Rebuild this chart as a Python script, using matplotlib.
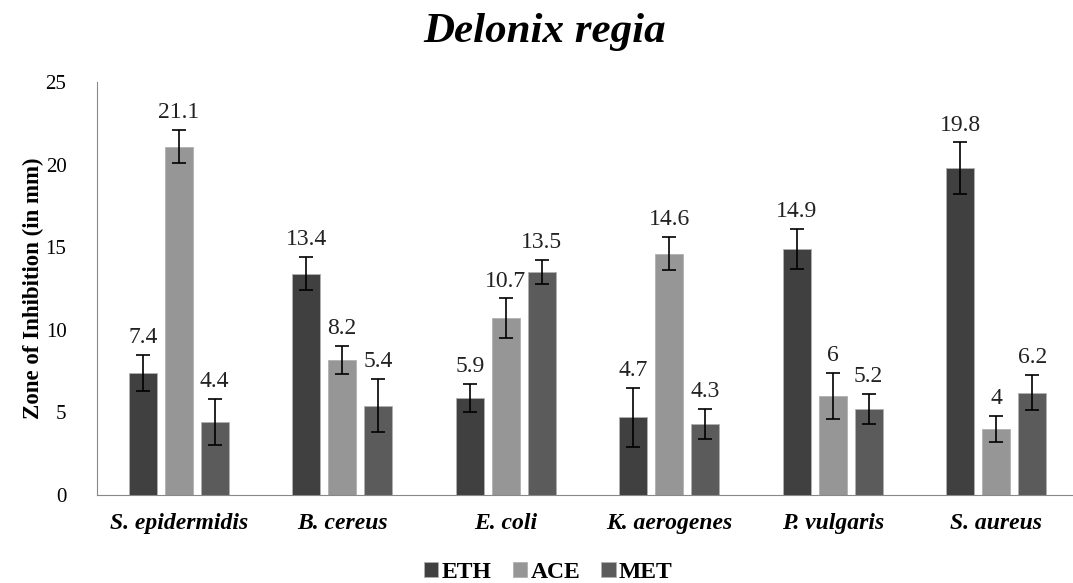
import matplotlib.pyplot as plt
import numpy as np

# data
bacteria = ['S. epidermidis', 'B. cereus', 'E. coli', 'K. aerogenes', 'P. vulgaris', 'S. aureus']
eth = [7.4, 13.4, 5.9, 4.7, 14.9, 19.8]
ace = [21.1, 8.2, 10.7, 14.6, 6, 4]
met = [4.4, 5.4, 13.5, 4.3, 5.2, 6.2]
eth_err = [1.1, 1.0, 0.85, 1.8, 1.2, 1.55]
ace_err = [1.0, 0.85, 1.2, 1.0, 1.4, 0.8]
met_err = [1.4, 1.6, 0.75, 0.9, 0.9, 1.05]
labels_eth = ['7.4', '13.4', '5.9', '4.7', '14.9', '19.8']
labels_ace = ['21.1', '8.2', '10.7', '14.6', '6', '4']
labels_met = ['4.4', '5.4', '13.5', '4.3', '5.2', '6.2']

serif = ['Liberation Serif', 'DejaVu Serif']
plt.rcParams['font.family'] = serif

fig = plt.figure(figsize=(10.73, 5.83), dpi=100)
ax = fig.add_axes([0.0904, 0.151, 0.9096, 0.708])

x = np.arange(len(bacteria))
width = 0.172
step = 0.22
series = [(eth, eth_err, labels_eth, '#404040', 'ETH'),
          (ace, ace_err, labels_ace, '#969696', 'ACE'),
          (met, met_err, labels_met, '#5b5b5b', 'MET')]

for k, (vals, errs, labs, col, name) in enumerate(series):
    pos = x + (k - 1) * step
    ax.bar(pos, vals, width, color=col, edgecolor='#b0b0b0', linewidth=0.6, label=name)
    ax.errorbar(pos, vals, yerr=errs, fmt='none', ecolor='black', elinewidth=1.2,
                capsize=5, capthick=1.2)
    for p, v, e, t in zip(pos, vals, errs, labs):
        ax.annotate(t, (p, v + e), xytext=(0, 5), textcoords='offset points',
                    ha='center', va='bottom', fontsize=17, color='#222222')

ax.set_ylim(0, 25)
ax.set_xlim(-0.5, 5.47)
ax.set_yticks([0, 5, 10, 15, 20, 25])
ax.tick_params(axis='y', length=0, labelsize=15, pad=22)
ax.tick_params(axis='x', length=0, pad=13)
ax.set_xticks(x)
ax.set_xticklabels(bacteria, fontsize=17, fontweight='bold', fontstyle='italic')
ax.set_ylabel('Zone of Inhibition (in mm)', fontsize=16.5, fontweight='bold', labelpad=1)

for s in ['top', 'right']:
    ax.spines[s].set_visible(False)
ax.spines['left'].set_color('#888888')
ax.spines['bottom'].set_color('#888888')

fig.text(0.508, 0.945, 'Delonix regia', ha='center', va='center', fontsize=31,
         fontweight='bold', fontstyle='italic')

leg = fig.legend(*ax.get_legend_handles_labels(), loc='center', bbox_to_anchor=(0.511, 0.018),
                 ncol=3, frameon=False, prop={'family': serif, 'weight': 'bold', 'size': 17},
                 handlelength=0.6, handleheight=0.6, handletextpad=0.15, columnspacing=0.9)

fig.savefig('out.png', dpi=100)
